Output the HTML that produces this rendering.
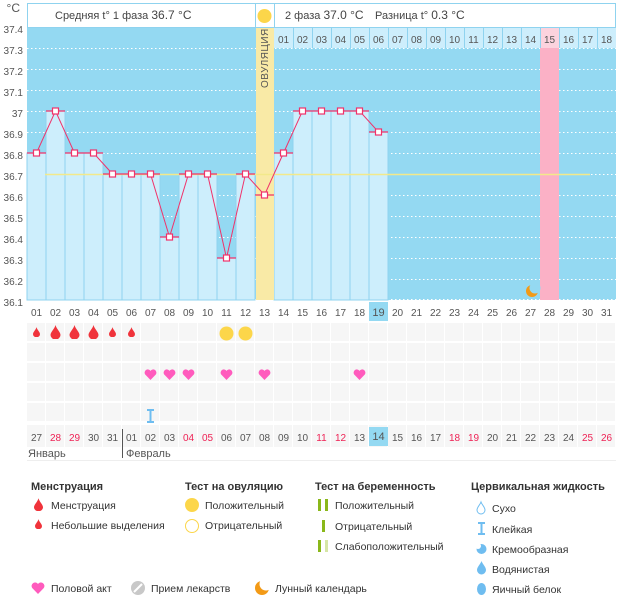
<!DOCTYPE html>
<html><head><meta charset="utf-8"><style>
body{margin:0;background:#fff;}
svg{display:block;font-family:"Liberation Sans","DejaVu Sans",sans-serif;}
</style></head><body>
<svg width="626" height="595" viewBox="0 0 626 595" xmlns="http://www.w3.org/2000/svg">
<defs>
<symbol id="drop" viewBox="0 0 10 14"><path d="M5 0 C6 4 10 7 10 10 A5 4.5 0 0 1 0 10 C0 7 4 4 5 0Z" fill="#f0333b"/></symbol>
<symbol id="heart" viewBox="0 0 14 12"><path d="M7 12 L1.2 6 A3.3 3.3 0 0 1 7 2 A3.3 3.3 0 0 1 12.8 6 Z" fill="#ff5bbd"/></symbol>
<pattern id="cells" x="27" y="0" width="19" height="20" patternUnits="userSpaceOnUse"><rect x="0" y="0" width="19" height="20" fill="#f6f6f6"/><rect x="18" y="0" width="1" height="20" fill="#fff"/></pattern>
</defs>
<g font-size="10" fill="#555" text-anchor="end">
<text x="20" y="12" font-size="12">°C</text>
<text x="23" y="33">37.4</text><text x="23" y="54">37.3</text><text x="23" y="75">37.2</text><text x="23" y="96">37.1</text>
<text x="23" y="117">37</text><text x="23" y="138">36.9</text><text x="23" y="159">36.8</text><text x="23" y="180">36.7</text>
<text x="23" y="201">36.6</text><text x="23" y="222">36.5</text><text x="23" y="243">36.4</text><text x="23" y="264">36.3</text>
<text x="23" y="285">36.2</text><text x="23" y="306">36.1</text>
</g>
<rect x="27" y="27" width="589" height="273" fill="#94d9f2"/>
<g stroke="#fff" stroke-dasharray="1.5,2.5" stroke-width="1">
<line x1="27" y1="48.5" x2="616" y2="48.5"/><line x1="27" y1="69.5" x2="616" y2="69.5"/><line x1="27" y1="90.5" x2="616" y2="90.5"/>
<line x1="27" y1="111.5" x2="616" y2="111.5"/><line x1="27" y1="132.5" x2="616" y2="132.5"/><line x1="27" y1="153.5" x2="616" y2="153.5"/>
<line x1="27" y1="174.5" x2="616" y2="174.5"/><line x1="27" y1="195.5" x2="616" y2="195.5"/><line x1="27" y1="216.5" x2="616" y2="216.5"/>
<line x1="27" y1="237.5" x2="616" y2="237.5"/><line x1="27" y1="258.5" x2="616" y2="258.5"/><line x1="27" y1="279.5" x2="616" y2="279.5"/>
<line x1="27" y1="299.5" x2="616" y2="299.5"/>
</g>
<g fill="#cdeefc" stroke="#8fd3ef" stroke-width="1">
<rect x="27" y="153" width="19" height="147"/><rect x="46" y="111" width="19" height="189"/><rect x="65" y="153" width="19" height="147"/>
<rect x="84" y="153" width="19" height="147"/><rect x="103" y="174" width="19" height="126"/><rect x="122" y="174" width="19" height="126"/>
<rect x="141" y="174" width="19" height="126"/><rect x="160" y="237" width="19" height="63"/><rect x="179" y="174" width="19" height="126"/>
<rect x="198" y="174" width="19" height="126"/><rect x="217" y="258" width="19" height="42"/><rect x="236" y="174" width="19" height="126"/>
<rect x="274" y="153" width="19" height="147"/><rect x="293" y="111" width="19" height="189"/><rect x="312" y="111" width="19" height="189"/>
<rect x="331" y="111" width="19" height="189"/><rect x="350" y="111" width="19" height="189"/><rect x="369" y="132" width="19" height="168"/>
</g>
<rect x="256" y="27" width="18" height="273" fill="#f9eaa6"/>
<text transform="translate(268,88) rotate(-90)" font-size="10" fill="#555" letter-spacing="0.5">ОВУЛЯЦИЯ</text>
<rect x="540" y="48" width="19" height="252" fill="#fbb1c6"/>
<line x1="45" y1="174.5" x2="590" y2="174.5" stroke="#f3e98a" stroke-width="1.5"/>
<rect x="27.5" y="3.5" width="588" height="24" fill="#fff" stroke="#8fd3ef"/>
<line x1="255.5" y1="3" x2="255.5" y2="27" stroke="#8fd3ef"/><line x1="274.5" y1="3" x2="274.5" y2="27" stroke="#8fd3ef"/>
<circle cx="264.5" cy="16" r="7" fill="#fcd64a"/>
<text x="55" y="19" font-size="11" fill="#444">Средняя t° 1 фаза <tspan font-size="12">36.7 °C</tspan></text>
<text x="285" y="19" font-size="11" fill="#444">2 фаза <tspan font-size="12">37.0 °C</tspan></text>
<text x="375" y="19" font-size="11" fill="#444">Разница t° <tspan font-size="12">0.3 °C</tspan></text>
<rect x="274" y="28" width="342" height="20" fill="#cdeefc"/>
<rect x="540" y="28" width="19" height="20" fill="#fcd3de"/>
<g stroke="#8fd3ef"><line x1="293.5" y1="28" x2="293.5" y2="48"/><line x1="312.5" y1="28" x2="312.5" y2="48"/><line x1="331.5" y1="28" x2="331.5" y2="48"/><line x1="350.5" y1="28" x2="350.5" y2="48"/><line x1="369.5" y1="28" x2="369.5" y2="48"/><line x1="388.5" y1="28" x2="388.5" y2="48"/><line x1="407.5" y1="28" x2="407.5" y2="48"/><line x1="426.5" y1="28" x2="426.5" y2="48"/><line x1="445.5" y1="28" x2="445.5" y2="48"/><line x1="464.5" y1="28" x2="464.5" y2="48"/><line x1="483.5" y1="28" x2="483.5" y2="48"/><line x1="502.5" y1="28" x2="502.5" y2="48"/><line x1="521.5" y1="28" x2="521.5" y2="48"/><line x1="540.5" y1="28" x2="540.5" y2="48"/><line x1="559.5" y1="28" x2="559.5" y2="48"/><line x1="578.5" y1="28" x2="578.5" y2="48"/><line x1="597.5" y1="28" x2="597.5" y2="48"/></g>
<g font-size="10" fill="#555" text-anchor="middle">
<text x="283.5" y="43">01</text><text x="302.5" y="43">02</text><text x="321.5" y="43">03</text><text x="340.5" y="43">04</text><text x="359.5" y="43">05</text><text x="378.5" y="43">06</text><text x="397.5" y="43">07</text><text x="416.5" y="43">08</text><text x="435.5" y="43">09</text><text x="454.5" y="43">10</text><text x="473.5" y="43">11</text><text x="492.5" y="43">12</text><text x="511.5" y="43">13</text><text x="530.5" y="43">14</text><text x="549.5" y="43">15</text><text x="568.5" y="43">16</text><text x="587.5" y="43">17</text><text x="606.5" y="43">18</text>
</g>
<g stroke="#f0326a" stroke-width="1.3">
<line x1="27" y1="153" x2="46" y2="153"/><line x1="46" y1="111" x2="65" y2="111"/><line x1="65" y1="153" x2="84" y2="153"/><line x1="84" y1="153" x2="103" y2="153"/>
<line x1="103" y1="174" x2="122" y2="174"/><line x1="122" y1="174" x2="141" y2="174"/><line x1="141" y1="174" x2="160" y2="174"/><line x1="160" y1="237" x2="179" y2="237"/>
<line x1="179" y1="174" x2="198" y2="174"/><line x1="198" y1="174" x2="217" y2="174"/><line x1="217" y1="258" x2="236" y2="258"/><line x1="236" y1="174" x2="255" y2="174"/>
<line x1="255" y1="195" x2="274" y2="195"/><line x1="274" y1="153" x2="293" y2="153"/><line x1="293" y1="111" x2="369" y2="111"/><line x1="369" y1="132" x2="388" y2="132"/>
</g>
<polyline fill="none" stroke="#f0326a" stroke-width="1" points="36.5,153 55.5,111 74.5,153 93.5,153 112.5,174 131.5,174 150.5,174 169.5,237 188.5,174 207.5,174 226.5,258 245.5,174 264.5,195 283.5,153 302.5,111 321.5,111 340.5,111 359.5,111 378.5,132"/>
<g fill="#fff" stroke="#f0326a" stroke-width="1.2">
<rect x="33.5" y="150" width="6" height="6"/><rect x="52.5" y="108" width="6" height="6"/><rect x="71.5" y="150" width="6" height="6"/><rect x="90.5" y="150" width="6" height="6"/>
<rect x="109.5" y="171" width="6" height="6"/><rect x="128.5" y="171" width="6" height="6"/><rect x="147.5" y="171" width="6" height="6"/><rect x="166.5" y="234" width="6" height="6"/>
<rect x="185.5" y="171" width="6" height="6"/><rect x="204.5" y="171" width="6" height="6"/><rect x="223.5" y="255" width="6" height="6"/><rect x="242.5" y="171" width="6" height="6"/>
<rect x="261.5" y="192" width="6" height="6"/><rect x="280.5" y="150" width="6" height="6"/><rect x="299.5" y="108" width="6" height="6"/><rect x="318.5" y="108" width="6" height="6"/>
<rect x="337.5" y="108" width="6" height="6"/><rect x="356.5" y="108" width="6" height="6"/><rect x="375.5" y="129" width="6" height="6"/>
</g>
<circle cx="532" cy="291" r="6" fill="#f39a16"/><circle cx="535" cy="288" r="5.5" fill="#94d9f2"/>
<g fill="url(#cells)">
<rect x="27" y="323" width="589" height="18"/><rect x="27" y="343" width="589" height="18"/><rect x="27" y="363" width="589" height="18"/><rect x="27" y="383" width="589" height="18"/><rect x="27" y="403" width="589" height="18"/><rect x="27" y="425" width="589" height="22"/>
</g>
<rect x="369" y="302" width="19" height="19" fill="#94d9f2"/>
<g font-size="10" fill="#555" text-anchor="middle">
<text x="36.5" y="316">01</text><text x="55.5" y="316">02</text><text x="74.5" y="316">03</text><text x="93.5" y="316">04</text><text x="112.5" y="316">05</text><text x="131.5" y="316">06</text><text x="150.5" y="316">07</text><text x="169.5" y="316">08</text><text x="188.5" y="316">09</text><text x="207.5" y="316">10</text><text x="226.5" y="316">11</text><text x="245.5" y="316">12</text><text x="264.5" y="316">13</text><text x="283.5" y="316">14</text><text x="302.5" y="316">15</text><text x="321.5" y="316">16</text><text x="340.5" y="316">17</text><text x="359.5" y="316">18</text><text x="378.5" y="316" font-size="11">19</text><text x="397.5" y="316">20</text><text x="416.5" y="316">21</text><text x="435.5" y="316">22</text><text x="454.5" y="316">23</text><text x="473.5" y="316">24</text><text x="492.5" y="316">25</text><text x="511.5" y="316">26</text><text x="530.5" y="316">27</text><text x="549.5" y="316">28</text><text x="568.5" y="316">29</text><text x="587.5" y="316">30</text><text x="606.5" y="316">31</text>
</g>
<use href="#drop" x="33" y="327" width="7" height="10"/>
<use href="#drop" x="50" y="325" width="11" height="14"/>
<use href="#drop" x="69" y="325" width="11" height="14"/>
<use href="#drop" x="88" y="325" width="11" height="14"/>
<use href="#drop" x="109" y="327" width="7" height="10"/>
<use href="#drop" x="128" y="327" width="7" height="10"/>
<circle cx="226.5" cy="333.5" r="7" fill="#fcd64a"/><circle cx="245.5" cy="333.5" r="7" fill="#fcd64a"/>
<use href="#heart" x="144" y="369" width="13" height="11"/><use href="#heart" x="163" y="369" width="13" height="11"/><use href="#heart" x="182" y="369" width="13" height="11"/>
<use href="#heart" x="220" y="369" width="13" height="11"/><use href="#heart" x="258" y="369" width="13" height="11"/><use href="#heart" x="353" y="369" width="13" height="11"/>
<path d="M147 410 h7 M147 422 h7 M150.5 410 v12" stroke="#6fbdf0" stroke-width="2"/>
<rect x="369" y="427" width="19" height="19" fill="#94d9f2"/>
<line x1="122.5" y1="429" x2="122.5" y2="458" stroke="#555"/>
<g font-size="10" fill="#555" text-anchor="middle">
<text x="36.5" y="441">27</text><text x="55.5" y="441" fill="#ee2255">28</text><text x="74.5" y="441" fill="#ee2255">29</text><text x="93.5" y="441">30</text><text x="112.5" y="441">31</text><text x="131.5" y="441">01</text><text x="150.5" y="441">02</text><text x="169.5" y="441">03</text><text x="188.5" y="441" fill="#ee2255">04</text><text x="207.5" y="441" fill="#ee2255">05</text><text x="226.5" y="441">06</text><text x="245.5" y="441">07</text><text x="264.5" y="441">08</text><text x="283.5" y="441">09</text><text x="302.5" y="441">10</text><text x="321.5" y="441" fill="#ee2255">11</text><text x="340.5" y="441" fill="#ee2255">12</text><text x="359.5" y="441">13</text><text x="378.5" y="440" font-size="11">14</text><text x="397.5" y="441">15</text><text x="416.5" y="441">16</text><text x="435.5" y="441">17</text><text x="454.5" y="441" fill="#ee2255">18</text><text x="473.5" y="441" fill="#ee2255">19</text><text x="492.5" y="441">20</text><text x="511.5" y="441">21</text><text x="530.5" y="441">22</text><text x="549.5" y="441">23</text><text x="568.5" y="441">24</text><text x="587.5" y="441" fill="#ee2255">25</text><text x="606.5" y="441" fill="#ee2255">26</text>
</g>
<text x="28" y="457" font-size="11" fill="#555">Январь</text>
<text x="126" y="457" font-size="11" fill="#555">Февраль</text>
<line x1="27" y1="460.5" x2="616" y2="460.5" stroke="#eee"/>
<g font-size="11" fill="#333" font-weight="bold">
<text x="31" y="490">Менструация</text><text x="185" y="490">Тест на овуляцию</text><text x="315" y="490">Тест на беременность</text><text x="471" y="490">Цервикальная жидкость</text>
</g>
<g font-size="10.5" fill="#333">
<use href="#drop" x="34" y="498" width="9" height="13"/><text x="51" y="509">Менструация</text>
<use href="#drop" x="35" y="519" width="7" height="10"/><text x="51" y="529">Небольшие выделения</text>
<circle cx="192" cy="505" r="7" fill="#fcd64a"/><text x="205" y="509">Положительный</text>
<circle cx="192" cy="526" r="6.5" fill="#fff" stroke="#fcd64a"/><text x="205" y="529">Отрицательный</text>
<rect x="318" y="499" width="3" height="12" fill="#8ab81a"/><rect x="325" y="499" width="3" height="12" fill="#8ab81a"/><text x="335" y="509">Положительный</text>
<rect x="322" y="520" width="3" height="12" fill="#8ab81a"/><text x="335" y="530">Отрицательный</text>
<rect x="318" y="540" width="3" height="12" fill="#8ab81a"/><rect x="325" y="540" width="3" height="12" fill="#d6e6a6"/><text x="335" y="550">Слабоположительный</text>
<path d="M481 502 C482 505 485 507 485 510 A4 4 0 0 1 477 510 C477 507 480 505 481 502Z" fill="#fff" stroke="#6fbdf0"/><text x="492" y="512">Сухо</text>
<path d="M478 523 h7 M478 534 h7 M481.5 523 v11" stroke="#6fbdf0" stroke-width="2"/><text x="492" y="533">Клейкая</text>
<circle cx="481.5" cy="549" r="5" fill="#6fbdf0"/><circle cx="478" cy="546" r="3" fill="#fff"/><text x="492" y="553">Кремообразная</text>
<path d="M481.5 561 C482.5 564 486 567 486 570 A4.5 4.5 0 0 1 477 570 C477 567 480.5 564 481.5 561Z" fill="#6fbdf0"/><text x="492" y="573">Водянистая</text>
<ellipse cx="481.5" cy="589" rx="4.5" ry="6" fill="#6fbdf0"/><text x="492" y="593">Яичный белок</text>
<use href="#heart" x="31" y="582" width="14" height="12"/><text x="51" y="592">Половой акт</text>
<circle cx="138" cy="588" r="7" fill="#c8c8c8"/><line x1="134" y1="592" x2="142" y2="584" stroke="#fff" stroke-width="2"/><text x="151" y="592">Прием лекарств</text>
<circle cx="262" cy="588" r="7" fill="#f39a16"/><circle cx="266" cy="584" r="6.5" fill="#fff"/><text x="275" y="592">Лунный календарь</text>
</g>
</svg>
</body></html>
